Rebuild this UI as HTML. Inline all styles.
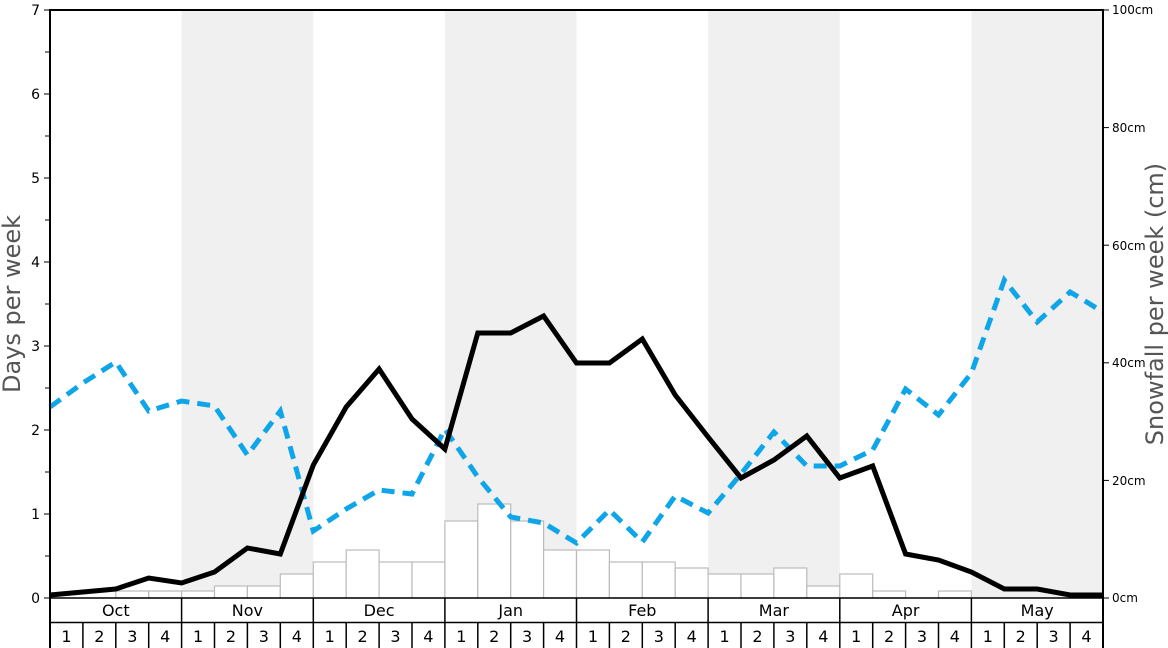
<!DOCTYPE html>
<html><head><meta charset="utf-8"><style>
html,body{margin:0;padding:0;background:#fff;}
svg{display:block;font-family:"DejaVu Sans","Liberation Sans",sans-serif;}
</style></head><body>
<svg width="1168" height="648" viewBox="0 0 1168 648" xmlns="http://www.w3.org/2000/svg">
<rect x="0" y="0" width="1168" height="648" fill="#fff"/>
<!-- shaded month bands -->
<rect x="181.6" y="10" width="131.7" height="588" fill="#f0f0f0"/>
<rect x="444.9" y="10" width="131.6" height="588" fill="#f0f0f0"/>
<rect x="708.1" y="10" width="131.7" height="588" fill="#f0f0f0"/>
<rect x="971.4" y="10" width="131.6" height="588" fill="#f0f0f0"/>
<!-- bars -->
<g fill="#fff" stroke="#bbb" stroke-width="1.2">
<rect x="115.8" y="591" width="32.9" height="7"/>
<rect x="148.7" y="591" width="32.9" height="7"/>
<rect x="181.6" y="591" width="32.9" height="7"/>
<rect x="214.5" y="586" width="32.9" height="12"/>
<rect x="247.4" y="586" width="32.9" height="12"/>
<rect x="280.3" y="574" width="33" height="24"/>
<rect x="313.3" y="562" width="32.9" height="36"/>
<rect x="346.2" y="550" width="32.9" height="48"/>
<rect x="379.1" y="562" width="32.9" height="36"/>
<rect x="412" y="562" width="32.9" height="36"/>
<rect x="444.9" y="521" width="32.9" height="77"/>
<rect x="477.8" y="504" width="32.9" height="94"/>
<rect x="510.7" y="521" width="32.9" height="77"/>
<rect x="543.6" y="550" width="32.9" height="48"/>
<rect x="576.5" y="550" width="32.9" height="48"/>
<rect x="609.4" y="562" width="32.9" height="36"/>
<rect x="642.3" y="562" width="32.9" height="36"/>
<rect x="675.2" y="568" width="32.9" height="30"/>
<rect x="708.1" y="574" width="32.9" height="24"/>
<rect x="741" y="574" width="32.9" height="24"/>
<rect x="773.9" y="568" width="32.9" height="30"/>
<rect x="806.8" y="586" width="33" height="12"/>
<rect x="839.8" y="574" width="32.9" height="24"/>
<rect x="872.7" y="591" width="32.9" height="7"/>
<rect x="938.5" y="591" width="32.9" height="7"/>
</g>
<!-- blue dashed -->
<polyline fill="none" stroke="#0ea5e9" stroke-width="5" stroke-dasharray="13,8" stroke-linejoin="miter"
points="50,407 82.9,383 115.8,362 148.7,411 181.6,401 214.5,406 247.4,455 280.3,411 313.3,531 346.2,509 379.1,490 412,494 444.9,429 477.8,477 510.7,517 543.6,523 576.5,543 609.4,510 642.3,542 675.2,496 708.1,513 741,474 773.9,432 806.8,466 839.8,466 872.7,450 905.6,389 938.5,415 971.4,373 1004.3,280 1037.2,322 1070.1,292 1103,312"/>
<!-- black line -->
<polyline fill="none" stroke="#000" stroke-width="5" stroke-linejoin="miter"
points="50,595 82.9,592 115.8,589 148.7,578 181.6,583 214.5,572 247.4,548 280.3,554 313.3,465 346.2,407 379.1,369 412,419 444.9,449 477.8,333 510.7,333 543.6,316 576.5,363 609.4,363 642.3,339 675.2,395 708.1,437 741,478 773.9,460 806.8,436 839.8,478 872.7,466 905.6,554 938.5,560 971.4,572 1004.3,589 1037.2,589 1070.1,595 1103,595"/>
<!-- plot frame -->
<line x1="50" y1="10" x2="1103" y2="10" stroke="#000" stroke-width="2"/>
<line x1="50" y1="9" x2="50" y2="648" stroke="#000" stroke-width="2"/>
<line x1="1103" y1="9" x2="1103" y2="648" stroke="#000" stroke-width="2"/>
<line x1="50" y1="598" x2="1103" y2="598" stroke="#000" stroke-width="1.5"/>
<line x1="50" y1="622.5" x2="1103" y2="622.5" stroke="#000" stroke-width="1.5"/>
<!-- month dividers -->
<g stroke="#000" stroke-width="1.5">
<line x1="181.6" y1="598" x2="181.6" y2="648"/><line x1="313.3" y1="598" x2="313.3" y2="648"/>
<line x1="444.9" y1="598" x2="444.9" y2="648"/><line x1="576.5" y1="598" x2="576.5" y2="648"/>
<line x1="708.1" y1="598" x2="708.1" y2="648"/><line x1="839.8" y1="598" x2="839.8" y2="648"/>
<line x1="971.4" y1="598" x2="971.4" y2="648"/>
</g>
<g stroke="#000" stroke-width="1.5">
<line x1="82.9" y1="622" x2="82.9" y2="648"/><line x1="115.8" y1="622" x2="115.8" y2="648"/><line x1="148.7" y1="622" x2="148.7" y2="648"/>
<line x1="214.5" y1="622" x2="214.5" y2="648"/><line x1="247.4" y1="622" x2="247.4" y2="648"/><line x1="280.3" y1="622" x2="280.3" y2="648"/>
<line x1="346.2" y1="622" x2="346.2" y2="648"/><line x1="379.1" y1="622" x2="379.1" y2="648"/><line x1="412" y1="622" x2="412" y2="648"/>
<line x1="477.8" y1="622" x2="477.8" y2="648"/><line x1="510.7" y1="622" x2="510.7" y2="648"/><line x1="543.6" y1="622" x2="543.6" y2="648"/>
<line x1="609.4" y1="622" x2="609.4" y2="648"/><line x1="642.3" y1="622" x2="642.3" y2="648"/><line x1="675.2" y1="622" x2="675.2" y2="648"/>
<line x1="741" y1="622" x2="741" y2="648"/><line x1="773.9" y1="622" x2="773.9" y2="648"/><line x1="806.8" y1="622" x2="806.8" y2="648"/>
<line x1="872.7" y1="622" x2="872.7" y2="648"/><line x1="905.6" y1="622" x2="905.6" y2="648"/><line x1="938.5" y1="622" x2="938.5" y2="648"/>
<line x1="1004.3" y1="622" x2="1004.3" y2="648"/><line x1="1037.2" y1="622" x2="1037.2" y2="648"/><line x1="1070.1" y1="622" x2="1070.1" y2="648"/>
</g>
<g font-size="16" text-anchor="middle" fill="#000">
<text x="115.8" y="616">Oct</text><text x="247.4" y="616">Nov</text><text x="379.1" y="616">Dec</text><text x="510.7" y="616">Jan</text>
<text x="642.3" y="616">Feb</text><text x="773.9" y="616">Mar</text><text x="905.6" y="616">Apr</text><text x="1037.2" y="616">May</text>
</g>
<g font-size="16" text-anchor="middle" fill="#000">
<text x="66.5" y="642">1</text><text x="99.4" y="642">2</text><text x="132.3" y="642">3</text><text x="165.2" y="642">4</text>
<text x="198.1" y="642">1</text><text x="231" y="642">2</text><text x="263.9" y="642">3</text><text x="296.8" y="642">4</text>
<text x="329.7" y="642">1</text><text x="362.6" y="642">2</text><text x="395.5" y="642">3</text><text x="428.4" y="642">4</text>
<text x="461.3" y="642">1</text><text x="494.2" y="642">2</text><text x="527.1" y="642">3</text><text x="560" y="642">4</text>
<text x="593" y="642">1</text><text x="625.9" y="642">2</text><text x="658.8" y="642">3</text><text x="691.7" y="642">4</text>
<text x="724.6" y="642">1</text><text x="757.5" y="642">2</text><text x="790.4" y="642">3</text><text x="823.3" y="642">4</text>
<text x="856.2" y="642">1</text><text x="889.1" y="642">2</text><text x="922" y="642">3</text><text x="954.9" y="642">4</text>
<text x="987.8" y="642">1</text><text x="1020.7" y="642">2</text><text x="1053.6" y="642">3</text><text x="1086.5" y="642">4</text>
</g>
<!-- left ticks -->
<g stroke="#000" stroke-width="1">
<line x1="44" y1="598" x2="50" y2="598"/><line x1="44" y1="514" x2="50" y2="514"/><line x1="44" y1="430" x2="50" y2="430"/>
<line x1="44" y1="346" x2="50" y2="346"/><line x1="44" y1="262" x2="50" y2="262"/><line x1="44" y1="178" x2="50" y2="178"/>
<line x1="44" y1="94" x2="50" y2="94"/><line x1="44" y1="10" x2="50" y2="10"/>
<line x1="45" y1="556" x2="50" y2="556"/><line x1="45" y1="472" x2="50" y2="472"/><line x1="45" y1="388" x2="50" y2="388"/>
<line x1="45" y1="304" x2="50" y2="304"/><line x1="45" y1="220" x2="50" y2="220"/><line x1="45" y1="136" x2="50" y2="136"/><line x1="45" y1="52" x2="50" y2="52"/>
</g>
<g font-size="14" text-anchor="end" fill="#000">
<text x="40" y="603">0</text><text x="40" y="519">1</text><text x="40" y="435">2</text><text x="40" y="351">3</text>
<text x="40" y="267">4</text><text x="40" y="183">5</text><text x="40" y="99">6</text><text x="40" y="15">7</text>
</g>
<!-- right ticks -->
<g stroke="#000" stroke-width="1">
<line x1="1103" y1="598" x2="1109" y2="598"/><line x1="1103" y1="480.4" x2="1109" y2="480.4"/><line x1="1103" y1="362.8" x2="1109" y2="362.8"/>
<line x1="1103" y1="245.2" x2="1109" y2="245.2"/><line x1="1103" y1="127.6" x2="1109" y2="127.6"/><line x1="1103" y1="10" x2="1109" y2="10"/>
</g>
<g font-size="12" fill="#000">
<text x="1112" y="602">0cm</text><text x="1112" y="485">20cm</text><text x="1112" y="367">40cm</text>
<text x="1112" y="250">60cm</text><text x="1112" y="132">80cm</text><text x="1112" y="14">100cm</text>
</g>
<text transform="translate(20,304) rotate(-90)" font-size="24" fill="#555" text-anchor="middle">Days per week</text>
<text transform="translate(1163,304) rotate(-90)" font-size="24" fill="#555" text-anchor="middle">Snowfall per week (cm)</text>
</svg>
</body></html>
